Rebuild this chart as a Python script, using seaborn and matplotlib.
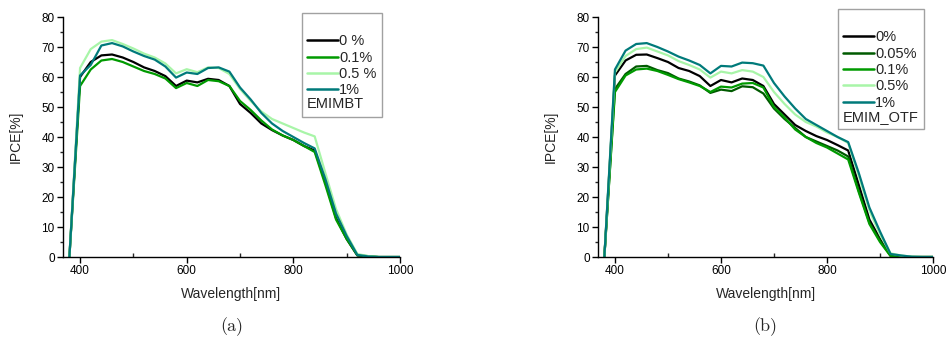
import numpy as np
import pandas as pd
import matplotlib
matplotlib.use("Agg")
import matplotlib.pyplot as plt
from matplotlib.lines import Line2D
import seaborn as sns

sns.set_style("ticks")
plt.rcParams['font.family'] = ['Liberation Sans', 'DejaVu Sans']

wavelength = [380, 400, 420, 440, 460, 480, 500, 520, 540, 560, 580, 600, 620, 640, 660,
              680, 700, 720, 740, 760, 780, 800, 820, 840, 860, 880, 900, 920, 940, 960,
              980, 1000]

# Panel (a): EMIMBT
a_labels = ["0 %", "0.1%", "0.5 %", "1%"]
a_0 = [0, 60, 65, 67.2, 67.5, 66.5, 65, 63.2, 62, 60.3, 57, 58.8, 58.2, 59.4, 59,
       57, 51, 48, 44.5, 42.3, 40.5, 39, 37, 35.5, 25, 13, 6, 0.5, 0.2, 0, 0, 0]
a_01 = [0, 57, 62.5, 65.5, 66, 65, 63.5, 62, 61, 59.5, 56.3, 58, 57, 59, 58.6,
        57, 52, 49, 45.5, 42.5, 40.5, 39, 37, 35, 24, 12.5, 6, 0.6, 0.3, 0, 0, 0]
a_05 = [0, 63, 69.3, 71.8, 72.3, 71, 69.5, 67.8, 66.5, 64.5, 61.2, 62.6, 61.6, 63.2, 63,
        61, 56, 52, 48.5, 46, 44.5, 43, 41.5, 40.2, 28, 16, 7.5, 1, 0.3, 0, 0, 0]
a_1 = [0, 60.5, 64, 70.5, 71.3, 70.2, 68.5, 67, 65.8, 63.5, 59.8, 61.5, 61, 63, 63.2,
       61.8, 56.5, 52.5, 48, 44.5, 42, 40, 38, 36.2, 26, 14.5, 7, 0.7, 0.2, 0, 0, 0]
a_title = "EMIMBT"

# Panel (b): EMIM_OTF
b_labels = ["0%", "0.05%", "0.1%", "0.5%", "1%"]
b_0 = [0, 60.5, 65.5, 67.4, 67.5, 66.3, 65, 63, 62, 60.3, 57, 59, 58.2, 59.5, 59,
       57, 51, 47.5, 44, 42, 40.3, 39, 37.3, 35.5, 24, 12.5, 6, 0.5, 0.2, 0, 0, 0]
b_005 = [0, 56, 61, 63.5, 63.7, 62.3, 61.3, 59.5, 58.5, 57.2, 54.7, 55.8, 55.3, 56.9, 56.6,
         54.5, 49.5, 46, 43, 40, 38.5, 37, 35.5, 33.5, 22, 11.5, 5.5, 0.4, 0.1, 0, 0, 0]
b_01 = [0, 55, 60.5, 62.5, 62.8, 62, 60.7, 59.3, 58.2, 57, 55, 56.8, 56.5, 57.8, 58,
        56.5, 50, 46.5, 42.5, 40, 38, 36.5, 34.5, 32.5, 21.5, 11, 5, 0.3, 0.1, 0, 0, 0]
b_05 = [0, 61.5, 67, 69.3, 69.8, 68.5, 67.2, 65.3, 64, 62.5, 59.8, 61.8, 61.2, 62.3, 61.8,
        60, 55, 51, 47.5, 45, 43.5, 41.5, 40, 38, 27, 15.5, 7.5, 1.2, 0.5, 0.1, 0, 0]
b_1 = [0, 62.5, 68.8, 71, 71.3, 70, 68.5, 66.8, 65.5, 64, 61.2, 63.7, 63.5, 64.8, 64.6,
       63.8, 58, 53.5, 49.5, 46, 44, 42, 40, 38.3, 28, 16.5, 8.5, 1, 0.5, 0.1, 0, 0]
b_title = "EMIM_OTF"

a_colors = ["#000000", "#009a00", "#a8f5a8", "#007a7a"]
b_colors = ["#000000", "#005a00", "#009a00", "#a8f5a8", "#007a7a"]

W, H = 948, 350
fig = plt.figure(figsize=(W / 100, H / 100), dpi=100)


def make_df(series, labels):
    rows = []
    for vals, lab in zip(series, labels):
        for x, y in zip(wavelength, vals):
            rows.append((x, y, lab))
    return pd.DataFrame(rows, columns=["Wavelength", "IPCE", "sample"])


def panel(rect, series, labels, colors, title, leg_xy, caption):
    ax = fig.add_axes(rect)
    df = make_df(series, labels)
    sns.lineplot(data=df, x="Wavelength", y="IPCE", hue="sample",
                 palette=dict(zip(labels, colors)), hue_order=labels,
                 linewidth=1.6, ax=ax, legend=False)
    ax.set_xlim(368, 1000)
    ax.set_ylim(0, 80)
    ax.set_xticks([400, 600, 800, 1000])
    ax.set_xticks([500, 700, 900], minor=True)
    ax.set_yticks(range(0, 81, 10))
    ax.set_yticks(range(5, 80, 10), minor=True)
    sns.despine(ax=ax)
    for s in ["left", "bottom"]:
        ax.spines[s].set_linewidth(1.0)
        ax.spines[s].set_color("black")
    ax.tick_params(axis="both", which="major", direction="out", length=4,
                   width=1, labelsize=8.5, pad=2, colors="black")
    ax.tick_params(axis="x", which="minor", direction="in", length=3, width=1)
    ax.tick_params(axis="y", which="minor", direction="out", length=2.5, width=1)
    ax.set_xlabel("Wavelength[nm]", fontsize=10)
    ax.set_ylabel("IPCE[%]", fontsize=10)
    ax.set_facecolor("white")

    handles = [Line2D([], [], color="none")] + \
        [Line2D([], [], color=c, lw=1.8) for c in colors]
    labs = [" "] + labels
    leg = ax.legend(handles, labs, title=title, loc="upper left",
                    bbox_to_anchor=(leg_xy[0] / W, 1 - leg_xy[1] / H),
                    bbox_transform=fig.transFigure, frameon=True, fancybox=False,
                    edgecolor="#8a8a8a", fontsize=10.5, title_fontsize=10.5,
                    handlelength=2.1, handletextpad=0.1, labelspacing=0.16,
                    borderpad=0.35, borderaxespad=0, alignment="left")
    leg.get_frame().set_linewidth(1.0)
    # move title (sample name) below the entries
    box = leg._legend_box
    box._children = box._children[::-1]
    box.sep = 0
    ax.text(0.5, -0.29, caption, transform=ax.transAxes, ha="center", va="center",
            fontsize=13, family="cmr10")
    ax.yaxis.set_label_coords(-0.12, 0.5)
    ax.xaxis.set_label_coords(0.5, -0.125)
    return ax


panel([63 / W, 1 - 257 / H, (400 - 63) / W, 240 / H],
      [a_0, a_01, a_05, a_1], a_labels, a_colors, a_title, (302, 13), "(a)")
panel([598 / W, 1 - 257 / H, (933 - 598) / W, 240 / H],
      [b_0, b_005, b_01, b_05, b_1], b_labels, b_colors, b_title, (838, 9), "(b)")

fig.savefig("out.png", dpi=100, facecolor="white")
